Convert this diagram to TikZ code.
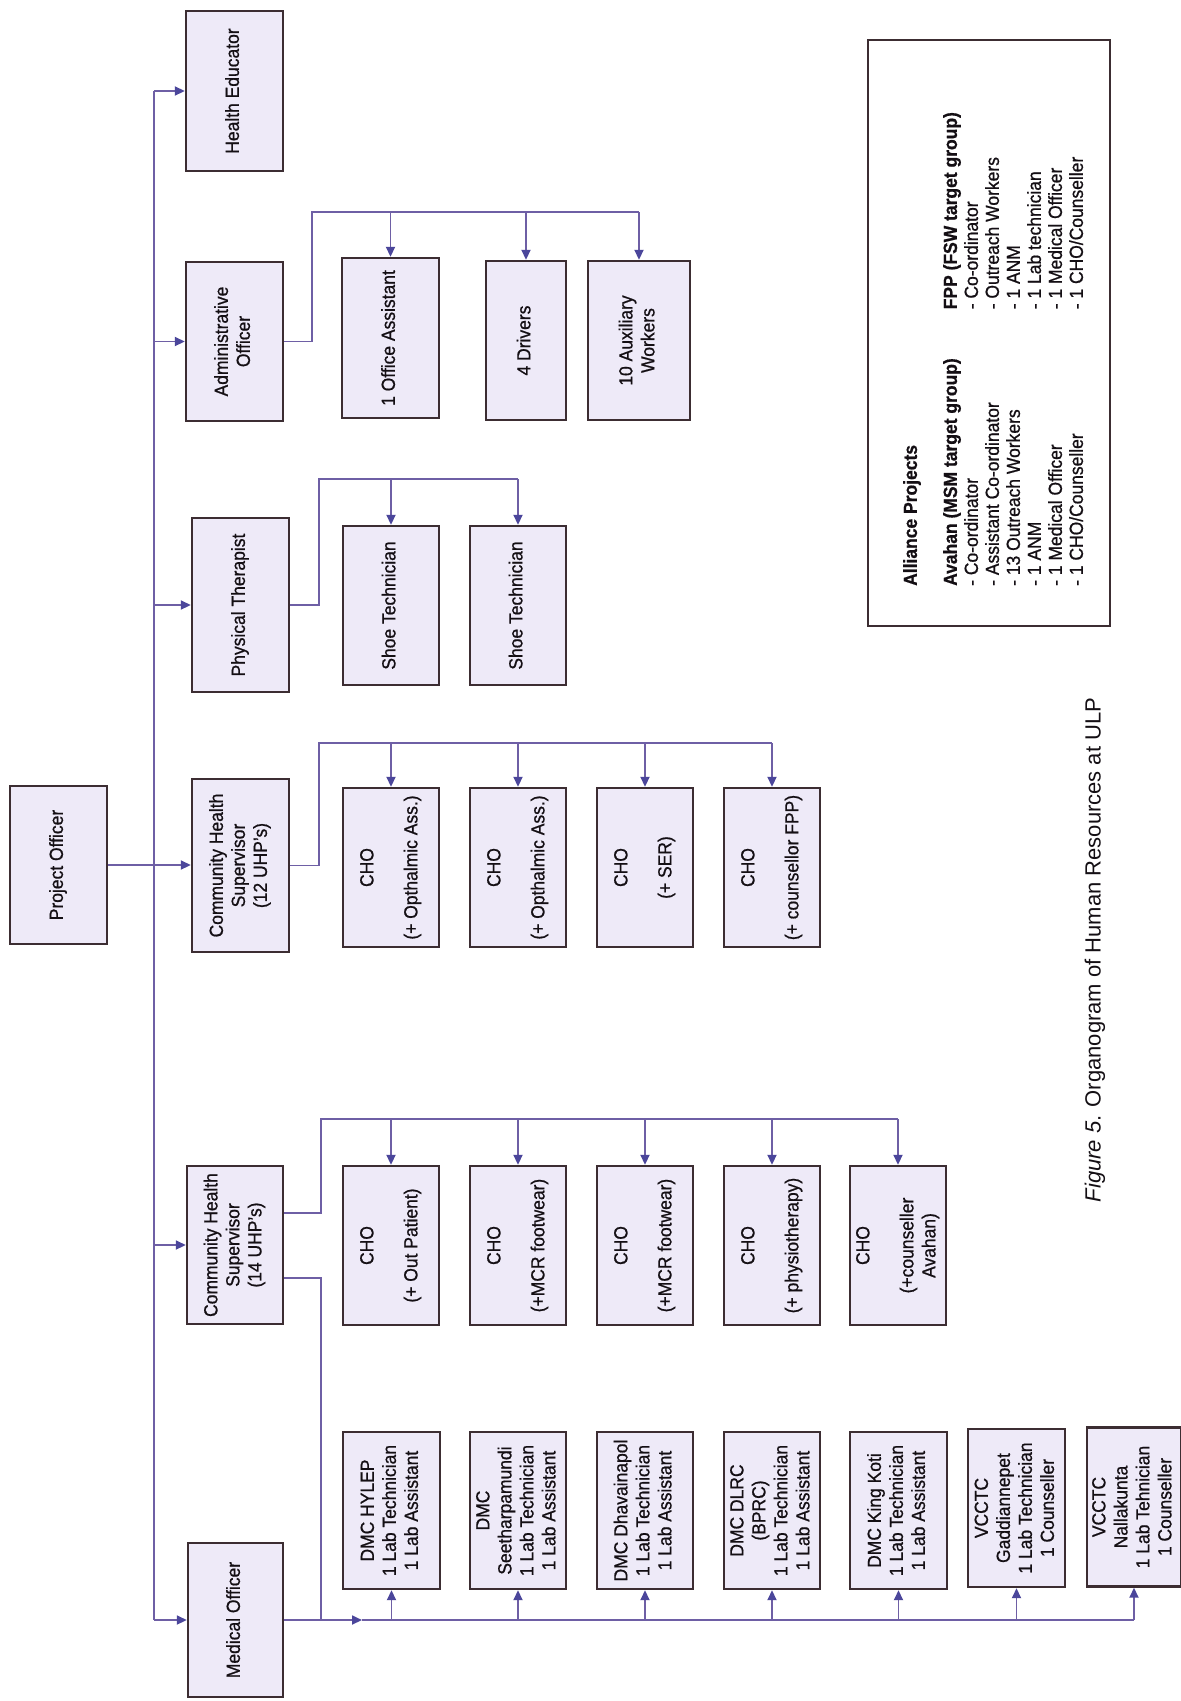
\documentclass[tikz,border=0pt]{standalone}
\usepackage{fontspec}
\setmainfont[FakeStretch=0.92,FakeBold=0.8]{Liberation Sans}
\newfontfamily\capfont{Liberation Sans}
\usetikzlibrary{arrows.meta}
\definecolor{boxfill}{RGB}{238,234,248}
\definecolor{boxline}{RGB}{60,45,50}
\definecolor{linec}{RGB}{110,95,165}
\definecolor{arrc}{RGB}{75,70,155}
\definecolor{txt}{RGB}{20,15,20}
\newcommand\bx[6]{\node[box,minimum width=#4pt,minimum height=#5pt] (#1) at (#2,#3) {\rotatebox{90}{\begin{tabular}{@{}c@{}}#6\end{tabular}}};}
\tikzset{
  box/.style={draw=boxline, fill=boxfill, line width=2.4pt, inner sep=0pt, text=txt, font=\fontsize{19}{22}\selectfont},
  conn/.style={draw=linec, line width=1.8pt},
  arr/.style={conn, -{Triangle[length=10pt,width=9pt,color=arrc]}}
}
\begin{document}
\begin{tikzpicture}[x=1pt,y=-1pt]
\fill[white] (0,0) rectangle (1181,1701);
\useasboundingbox (0,0) rectangle (1181,1701);
% level 1
\bx{po}{58.5}{865}{97}{158}{Project Officer}
% level 2
\bx{he}{234.5}{91}{97}{160}{Health Educator}
\bx{ao}{234.5}{341.5}{97}{159}{Administrative\\Officer}
\bx{pt}{240.5}{605}{97}{174}{Physical Therapist}
\bx{chsa}{240.5}{865.5}{97}{173}{Community Health\\Supervisor\\(12 UHP's)}
\bx{chsb}{235}{1245}{96}{158}{Community Health\\Supervisor\\(14 UHP's)}
\bx{mo}{235.5}{1620}{95}{154}{Medical Officer}
% admin children
\bx{oa}{390.5}{338}{97}{160}{1 Office Assistant}
\bx{drv}{526}{340.5}{80}{159}{4 Drivers}
\bx{aux}{639}{340.5}{102}{159}{10 Auxiliary\\Workers}
% physical therapist children
\bx{sta}{391}{605.5}{96}{159}{Shoe Technician}
\bx{stb}{518}{605.5}{96}{159}{Shoe Technician}
% CHS 12 children
\bx{ca}{391}{867.5}{96}{159}{CHO\\ \\(+ Opthalmic Ass.)}
\bx{cb}{518}{867.5}{96}{159}{CHO\\ \\(+ Opthalmic Ass.)}
\bx{cc}{645}{867.5}{96}{159}{CHO\\ \\(+ SER)}
\bx{cd}{772}{867.5}{96}{159}{CHO\\ \\(+ counsellor FPP)}
% CHS 14 children
\bx{da}{391}{1245.5}{96}{159}{CHO\\ \\(+ Out Patient)}
\bx{db}{518}{1245.5}{96}{159}{CHO\\ \\(+MCR footwear)}
\bx{dc}{645}{1245.5}{96}{159}{CHO\\ \\(+MCR footwear)}
\bx{dd}{772}{1245.5}{96}{159}{CHO\\ \\(+ physiotherapy)}
\bx{de}{898}{1245.5}{96}{159}{CHO\\ \\(+counseller\\Avahan)}
% medical officer children
\bx{ma}{391.5}{1510.5}{97}{157}{DMC HYLEP\\1 Lab Technician\\1 Lab Assistant}
\bx{mb}{518}{1510.5}{96}{157}{DMC\\Seetharpamundi\\1 Lab Technician\\1 Lab Assistant}
\bx{mc}{645}{1510.5}{96}{157}{DMC Dhavainapol\\1 Lab Technician\\1 Lab Assistant}
\bx{md}{772}{1510.5}{96}{157}{DMC DLRC\\(BPRC)\\1 Lab Technician\\1 Lab Assistant}
\bx{me}{898.5}{1510.5}{97}{157}{DMC King Koti\\1 Lab Technician\\1 Lab Assistant}
\bx{mf}{1016.5}{1508}{97}{158}{VCCTC\\Gaddiannepet\\1 Lab Technician\\1 Counseller}
\bx{mg}{1134}{1507}{94}{159}{VCCTC\\Nallakunta\\1 Lab Tehnician\\1 Counseller}
% trunk
\coordinate (tk) at (154,0);
\draw[conn] (tk |- he.west) -- (tk |- mo.west);
\foreach \n in {he,ao,pt,chsb,mo} \draw[arr] (tk |- \n.west) -- (\n.west);
\draw[arr] (po.east) -- (po.east -| chsa.west);
% admin
\coordinate (aoj) at (312,212);
\draw[conn] (ao.east) -| (aoj) -- (aoj -| aux.north);
\foreach \n in {oa,drv,aux} \draw[arr] (aoj -| \n.north) -- (\n.north);
% physical therapist
\coordinate (ptj) at (319,479);
\draw[conn] (pt.east) -| (ptj) -- (ptj -| stb.north);
\foreach \n in {sta,stb} \draw[arr] (ptj -| \n.north) -- (\n.north);
% CHS 12
\coordinate (caj) at (319,743);
\draw[conn] (chsa.east) -| (caj) -- (caj -| cd.north);
\foreach \n in {ca,cb,cc,cd} \draw[arr] (caj -| \n.north) -- (\n.north);
% CHS 14
\coordinate (cbj) at (321,1119);
\draw[conn] ([yshift=32pt]chsb.east) -| (cbj) -- (cbj -| de.north);
\foreach \n in {da,db,dc,dd,de} \draw[arr] (cbj -| \n.north) -- (\n.north);
\draw[conn] ([yshift=-33pt]chsb.east) -| (cbj |- mo.east);
% medical officer
\coordinate (mom) at (362,1620);
\draw[arr] (mo.east) -- (mom);
\draw[conn] (mom) -- (mom -| mg.south);
\foreach \n in {ma,mb,mc,md,me,mf,mg} \draw[arr] (mom -| \n.south) -- (\n.south);
% legend
\node[draw=boxline, line width=2pt, minimum width=242pt, minimum height=586pt, inner sep=0pt] (legend) at (989,333) {};
\node[anchor=south west, inner sep=0pt, text=txt, font=\fontsize{19}{21}\selectfont] (legtext) at (902,586) {\rotatebox{90}{\begin{tabular}{@{}l@{\hspace{49pt}}l@{}}
\textbf{Alliance Projects} & \\[19pt]
\textbf{Avahan (MSM target group)} & \textbf{FPP (FSW target group)}\\
- Co-ordinator & - Co-ordinator\\
- Assistant Co-ordinator & - Outreach Workers\\
- 13 Outreach Workers & - 1 ANM\\
- 1 ANM & - 1 Lab technician\\
- 1 Medical Officer & - 1 Medical Officer\\
- 1 CHO/Counseller & - 1 CHO/Counseller
\end{tabular}}};
% caption
\node[inner sep=0pt, text=txt, font=\capfont\fontsize{22}{25}\selectfont] (cap) at (1095,950) {\rotatebox{90}{\textit{Figure 5}. Organogram of Human Resources at ULP}};
\end{tikzpicture}
\end{document}
